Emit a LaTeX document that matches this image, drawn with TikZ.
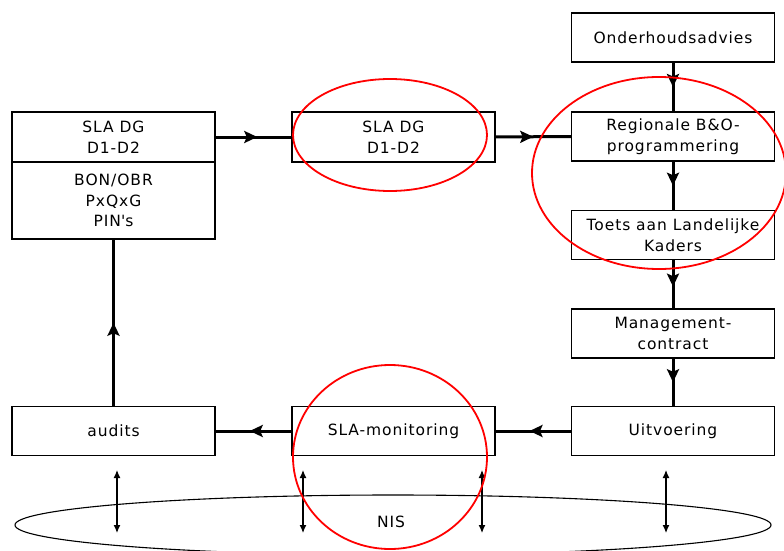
\documentclass[tikz,border=0pt]{standalone}
\usepackage{fontspec}
\setmainfont{DejaVu Sans}[LetterSpace=6]
\usetikzlibrary{arrows.meta,decorations.markings,shapes.geometric}
\begin{document}
\begin{tikzpicture}[x=1pt,y=-1pt,
  box/.style={draw, line width=1.3pt, minimum width=203pt, minimum height=49pt, inner sep=0pt, align=center, font=\fontsize{15.5}{20.5}\selectfont},
  conn/.style={line width=3pt, postaction={decorate}, decoration={markings, mark=at position #1 with {\arrow{Stealth[length=13pt,width=12pt,inset=2.5pt]}}}},
  conn/.default=0.55,
  dbl/.style={line width=1.2pt, {Latex[length=8pt,width=7pt]}-{Latex[length=8pt,width=7pt]}},
  redring/.style={draw=red, line width=1.8pt}
]
\useasboundingbox (0,0) rectangle (784,551);
\clip (0,0) rectangle (784,551);
\fill[white] (0,0) rectangle (784,551);

% left column
\node[box, minimum height=50pt] (ltop) at (113.5,137) {SLA DG\\D1-D2};
\node[box, minimum height=77pt] (lbot) at (113.5,200.5) {BON/OBR\\PxQxG\\PIN\textquotesingle s};
\node[box] (audits) at (113.5,431) {audits};
% middle column
\node[box, minimum height=50pt] (mtop) at (393.5,137) {SLA DG\\D1-D2};
\node[box] (slam) at (393.5,431) {SLA-monitoring};
% right column
\node[box] (onder) at (673,37.5) {Onderhoudsadvies};
\node[box] (regio) at (673,136.5) {Regionale B\&O-\\programmering};
\node[box] (toets) at (673,235) {Toets aan Landelijke\\Kaders};
\node[box] (mgmt) at (673,333.5) {Management-\\contract};
\node[box] (uitv) at (673,431) {Uitvoering};

% connectors
\draw[conn] (ltop.east) -- (mtop.west);
\draw[conn=0.5] (mtop.east) -- (regio.west);
\draw[conn=0.5] (onder.south) -- (regio.north);
\draw[conn=0.5] (regio.south) -- (toets.north);
\draw[conn=0.55] (toets.south) -- (mgmt.north);
\draw[conn=0.5] (mgmt.south) -- (uitv.north);
\draw[conn=0.55] (uitv.west) -- (slam.east);
\draw[conn=0.55] (slam.west) -- (audits.east);
\draw[conn=0.5] (audits.north) -- (lbot.south);

% NIS
\node[draw, ellipse, line width=1.1pt, minimum width=756pt, minimum height=60pt, inner sep=0pt] (nis) at (393,525) {};
\node[font=\fontsize{15.5}{18}\selectfont] (nistext) at (391,522) {NIS};

% double arrows
\coordinate (a1) at (117,470); \coordinate (b1) at (117,533);
\coordinate (a2) at (303,470); \coordinate (b2) at (303,533);
\coordinate (a3) at (482,470); \coordinate (b3) at (482,533);
\coordinate (a4) at (666,470); \coordinate (b4) at (666,533);
\draw[dbl] (a1) -- (b1);
\draw[dbl] (a2) -- (b2);
\draw[dbl] (a3) -- (b3);
\draw[dbl] (a4) -- (b4);

% red rings
\draw[redring] (390,135) ellipse [x radius=97pt, y radius=56pt];
\draw[redring] (659,173) ellipse [x radius=127pt, y radius=96pt];
\draw[redring] (390,457) ellipse [x radius=97pt, y radius=92pt];
\end{tikzpicture}
\end{document}
